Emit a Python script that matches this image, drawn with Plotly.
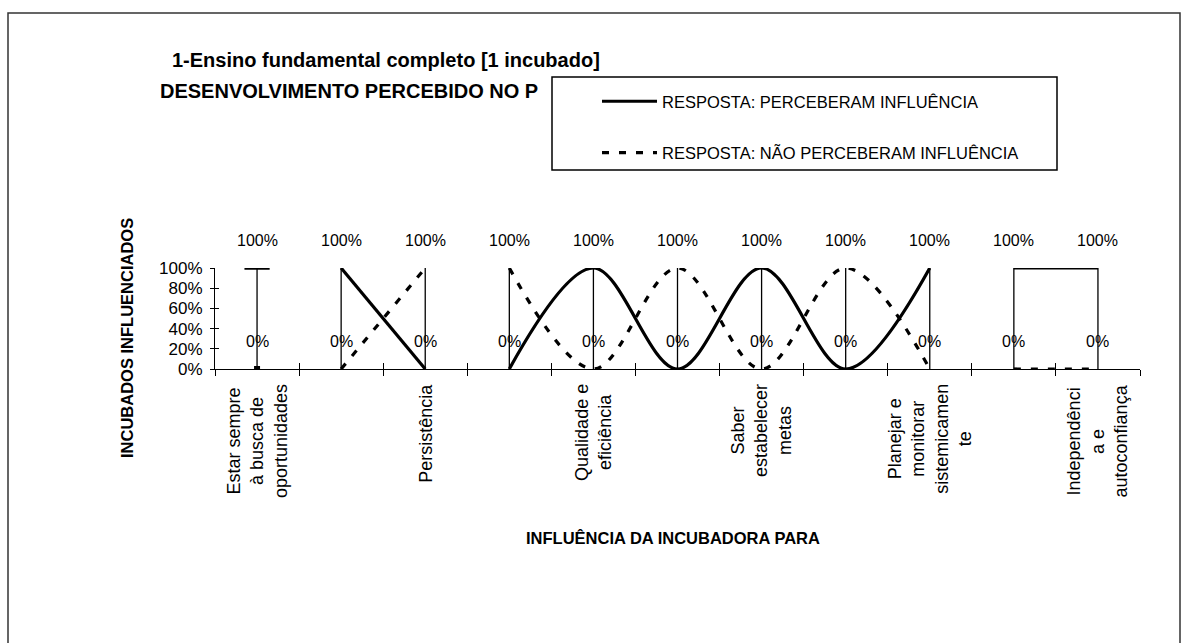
import plotly.graph_objects as go

# ---------------- data ----------------
categorias = [
    "Estar sempre<br>à busca de<br>oportunidades", "",
    "Persistência", "",
    "Qualidade e<br>eficiência", "",
    "Saber<br>estabelecer<br>metas", "",
    "Planejar e<br>monitorar<br>sistemicamen<br>te", "",
    "Independênci<br>a e<br>autoconfiança",
]
perceberam = [1, 1, 0, 0, 1, 0, 1, 0, 1, 1, 1]
nao_perceberam = [0, 0, 1, 1, 0, 1, 0, 1, 0, 0, 0]
quebras = [0, 2, 8]          # the line is interrupted after these categories
y_ticks = [0, 0.2, 0.4, 0.6, 0.8, 1.0]

titulo1 = "1-Ensino fundamental completo [1 incubado]"
titulo2 = "DESENVOLVIMENTO PERCEBIDO NO P"
nome_s1 = "RESPOSTA: PERCEBERAM INFLUÊNCIA"
nome_s2 = "RESPOSTA: NÃO PERCEBERAM INFLUÊNCIA"
titulo_x = "INFLUÊNCIA DA INCUBADORA PARA"
titulo_y = "INCUBADOS INFLUENCIADOS"

# ---------------- layout geometry ----------------
W, H = 1188, 643
L, R, T, B = 215, 48, 268, 274
PW, PH = W - L - R, H - T - B
FONT = "Liberation Sans, Arial, sans-serif"


def px(xp):
    return (xp - L) / PW


def py(yp):
    return (H - B - yp) / PH


n = len(categorias)
idx = list(range(n))


def segmentos(vals):
    xs, ys = [], []
    for i, v in enumerate(vals):
        xs.append(i)
        ys.append(v)
        if i in quebras:
            xs.append(None)
            ys.append(None)
    return xs, ys


def isolados(vals):
    out_x, out_y = [], []
    for i, v in enumerate(vals):
        start = i == 0 or (i - 1) in quebras
        end = i == n - 1 or i in quebras
        if start and end:
            out_x.append(i)
            out_y.append(v)
    return out_x, out_y


fig = go.Figure()

# high-low lines
hx, hy = [], []
for i in idx:
    hx += [i, i, None]
    hy += [min(perceberam[i], nao_perceberam[i]), max(perceberam[i], nao_perceberam[i]), None]
fig.add_trace(go.Scatter(x=hx, y=hy, mode="lines", line=dict(color="black", width=1.3),
                         showlegend=False, hoverinfo="skip"))

sx, sy = segmentos(perceberam)
fig.add_trace(go.Scatter(x=sx, y=sy, mode="lines", name=nome_s1, legendgroup="a",
                         line=dict(color="black", width=3.2, shape="spline"),
                         connectgaps=False))
dx, dy = segmentos(nao_perceberam)
fig.add_trace(go.Scatter(x=dx, y=dy, mode="lines", name=nome_s2, legendgroup="b",
                         line=dict(color="black", width=3.2, shape="spline", dash="7px,10px"),
                         connectgaps=False))

ix, iy = isolados(perceberam)
fig.add_trace(go.Scatter(x=ix, y=iy, mode="markers", showlegend=False, hoverinfo="skip",
                         marker=dict(symbol="line-ew", size=18, line=dict(color="black", width=3.5))))
ix, iy = isolados(nao_perceberam)
fig.add_trace(go.Scatter(x=ix, y=iy, mode="markers", showlegend=False, hoverinfo="skip",
                         marker=dict(symbol="square", size=6, color="black")))

# dummy trace for overlay axes (cross tick marks)
fig.add_trace(go.Scatter(x=[None], y=[None], xaxis="x2", yaxis="y2", showlegend=False))

annotations = []
# data labels
for serie in (perceberam, nao_perceberam):
    for i, v in enumerate(serie):
        annotations.append(dict(x=i, y=v, xref="x", yref="y", text=f"{v:.0%}",
                                showarrow=False, yshift=28, xanchor="center", yanchor="middle",
                                font=dict(family=FONT, size=16, color="black")))
# category labels
for i, c in enumerate(categorias):
    if c:
        annotations.append(dict(x=i, y=0, xref="x", yref="y", text=c, textangle=-90,
                                showarrow=False, xanchor="center", yanchor="top", yshift=-13,
                                align="center",
                                font=dict(family=FONT, size=18, color="black")))
# titles
annotations.append(dict(x=px(170), y=py(60), xref="paper", yref="paper", text=titulo1,
                        showarrow=False, xanchor="left", yanchor="middle",
                        font=dict(family=FONT, size=20, color="black", weight="bold")))
annotations.append(dict(x=px(158), y=py(91), xref="paper", yref="paper", text=titulo2,
                        showarrow=False, xanchor="left", yanchor="middle",
                        font=dict(family=FONT, size=20, color="black", weight="bold")))
annotations.append(dict(x=px(673), y=py(538), xref="paper", yref="paper", text=titulo_x,
                        showarrow=False, xanchor="center", yanchor="middle",
                        font=dict(family=FONT, size=16.5, color="black", weight="bold")))
annotations.append(dict(x=px(127), y=py(338), xref="paper", yref="paper", text=titulo_y,
                        showarrow=False, xanchor="center", yanchor="middle", textangle=-90,
                        font=dict(family=FONT, size=16.5, color="black", weight="bold")))

shapes = [
    dict(type="rect", xref="paper", yref="paper", x0=px(8), x1=px(1180), y0=py(660), y1=py(13),
         line=dict(color="#333333", width=1.5), fillcolor="rgba(0,0,0,0)", layer="below"),
    dict(type="rect", xref="paper", yref="paper", x0=px(552), x1=px(1057), y0=py(170), y1=py(77),
         line=dict(color="black", width=1.5), fillcolor="white", layer="above"),
]

bounds = [i - 0.5 for i in range(n + 1)]

fig.update_layout(
    width=W, height=H,
    margin=dict(l=L, r=R, t=T, b=B, pad=0),
    paper_bgcolor="white", plot_bgcolor="white",
    font=dict(family=FONT, size=16, color="black"),
    showlegend=True,
    legend=dict(x=px(597), y=py(84), xanchor="left", yanchor="top",
                bgcolor="rgba(0,0,0,0)", borderwidth=0,
                font=dict(family=FONT, size=16.5, color="black"),
                tracegroupgap=27, itemwidth=55, traceorder="grouped"),
    xaxis=dict(range=[-0.5, n - 0.5], tickvals=bounds, ticktext=["" for _ in bounds],
               ticks="outside", ticklen=6, tickwidth=1, tickcolor="black",
               showline=True, linecolor="black", linewidth=1, showgrid=False, zeroline=False,
               fixedrange=True),
    yaxis=dict(range=[0, 1], tickvals=y_ticks, tickformat=".0%",
               ticks="outside", ticklen=4, tickwidth=1, tickcolor="black",
               ticklabelstandoff=4,
               showline=True, linecolor="black", linewidth=1, showgrid=False, zeroline=False,
               tickfont=dict(family=FONT, size=17, color="black"), fixedrange=True),
    xaxis2=dict(overlaying="x", matches="x", anchor="y2", tickvals=bounds,
                ticks="inside", ticklen=6, tickwidth=1, tickcolor="black",
                showticklabels=False, showline=False, showgrid=False, zeroline=False),
    yaxis2=dict(overlaying="y", matches="y", anchor="x2", side="left", tickvals=y_ticks,
                ticks="inside", ticklen=4, tickwidth=1, tickcolor="black",
                showticklabels=False, showline=False, showgrid=False, zeroline=False),
    annotations=annotations,
    shapes=shapes,
)

fig.write_html("out.html")
